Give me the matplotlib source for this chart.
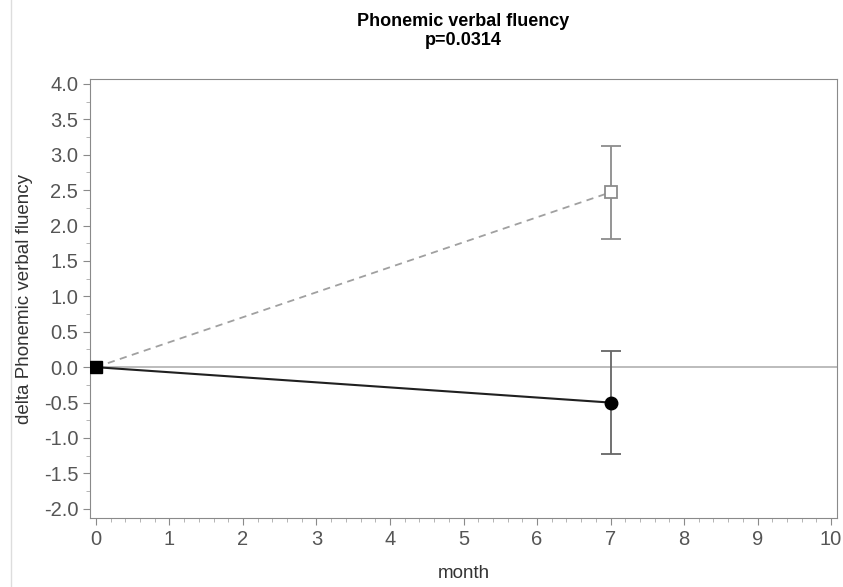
import matplotlib.pyplot as plt
from matplotlib.ticker import MultipleLocator

plt.rcParams['font.family'] = ['Liberation Sans', 'DejaVu Sans']

# data
months = [0, 7]
treated = [0.0, -0.50]
treated_err = [0.0, 0.73]
control = [0.0, 2.47]
control_err = [0.0, 0.66]

fig = plt.figure(figsize=(8.43, 5.87), dpi=100)
ax = fig.add_axes([90 / 843, 69 / 587, 747 / 843, 439 / 587])

grey = '#8a8a8a'
ax.axhline(0, color='#b0b0b0', lw=1.2, zorder=1)

# control group: dashed grey, open squares
ax.errorbar(months[1:], control[1:], yerr=control_err[1:], fmt='none',
            ecolor='#8c8c8c', elinewidth=1.3, capsize=7, capthick=1.3, zorder=2)
ax.plot(months, control, ls=(0, (4, 3)), color='#a0a0a0', lw=1.3, zorder=2)
ax.plot(months[1:], control[1:], ls='none', marker='s', ms=9, mfc='white',
        mec='#8c8c8c', mew=1.3, zorder=3)

# treated group: solid black, filled circles
ax.errorbar(months[1:], treated[1:], yerr=treated_err[1:], fmt='none',
            ecolor='#666666', elinewidth=1.3, capsize=7, capthick=1.3, zorder=2)
ax.plot(months, treated, color='#202020', lw=1.5, zorder=3)
ax.plot(months[1:], treated[1:], ls='none', marker='o', ms=9, color='black', zorder=4)
ax.plot(months[:1], treated[:1], ls='none', marker='s', ms=8, color='black', zorder=4)

ax.set_xlim(-0.08, 10.08)
ax.set_ylim(-2.13, 4.07)
ax.xaxis.set_major_locator(MultipleLocator(1))
ax.xaxis.set_minor_locator(MultipleLocator(0.2))
ax.yaxis.set_major_locator(MultipleLocator(0.5))
ax.yaxis.set_minor_locator(MultipleLocator(0.25))
ax.yaxis.set_major_formatter(plt.FuncFormatter(lambda v, p: f'{v:.1f}'))

for s in ax.spines.values():
    s.set_color(grey)
ax.tick_params(which='major', length=5, color=grey, labelsize=14.5, labelcolor='#555555')
ax.tick_params(which='minor', length=3, color='#a8a8a8')

ax.set_xlabel('month', fontsize=13.5, color='#333333', labelpad=12)
ax.set_ylabel('delta Phonemic verbal fluency', fontsize=13.5, color='#333333', labelpad=8)
fig.text(463 / 843, 1 - 31 / 587, 'Phonemic verbal fluency\np=0.0314', ha='center',
         va='center', fontsize=13, fontweight='bold', linespacing=1.1)

fig.add_artist(plt.Line2D([11 / 843, 11 / 843], [0, 1], color='#dddddd', lw=1))

fig.savefig('out.png', dpi=100)
